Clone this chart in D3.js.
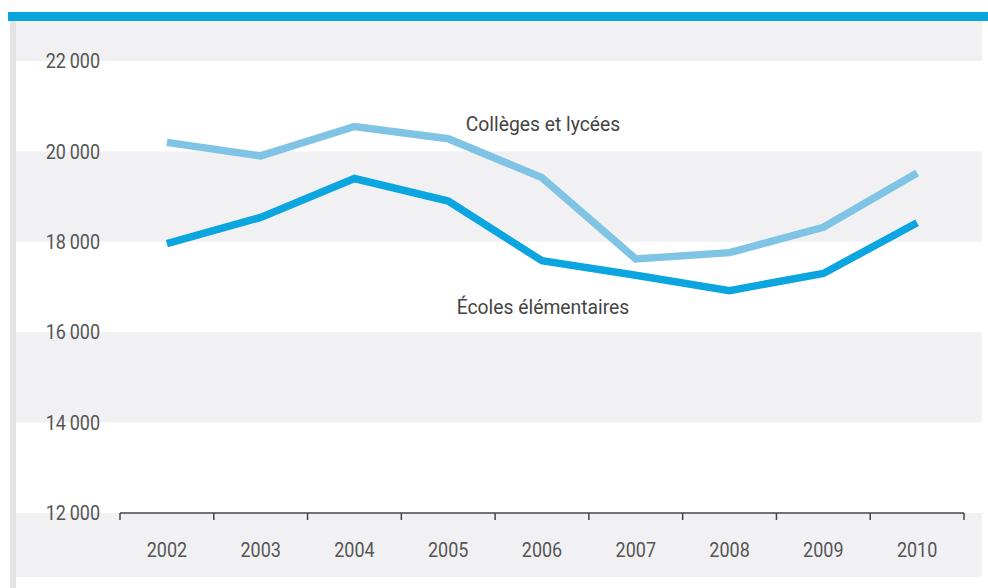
<!DOCTYPE html>
<html>
<head>
<meta charset="utf-8">
<script src="https://cdn.jsdelivr.net/npm/d3@7"></script>
<style>
  html, body { margin: 0; padding: 0; background: #fff; }
  svg { display: block; }
</style>
</head>
<body>
<svg id="chart"></svg>
<script>
// data
const years = ["2002", "2003", "2004", "2005", "2006", "2007", "2008", "2009", "2010"];
const colleges = [20200, 19900, 20550, 20280, 19420, 17620, 17760, 18320, 19520];
const ecoles = [17960, 18540, 19400, 18900, 17580, 17260, 16920, 17300, 18420];
const yTicks = [12000, 14000, 16000, 18000, 20000, 22000];

const width = 988, height = 588;
const squeeze = 0.9; // the reference uses a condensed face

const svg = d3.select("#chart")
    .attr("width", width)
    .attr("height", height)
    .style("font-family", "Roboto, 'Liberation Sans', sans-serif");

const x = d3.scaleBand()
    .domain(years)
    .range([120, 964]);

const y = d3.scaleLinear()
    .domain([12000, 22000])
    .range([513, 61]);

// narrow text helper
function narrowText(sel, px, py, k) {
    return sel.attr("transform", (d, i) => `translate(${px(d, i)},${py(d, i)}) scale(${k || squeeze},1)`);
}

// stripes behind the plot
const panelTop = 21, panelBottom = 577, panelLeft = 16, panelRight = 982;
const edges = [panelTop].concat(yTicks.slice().reverse().map(y)).concat([panelBottom]);
svg.selectAll("rect.band")
    .data(d3.pairs(edges))
    .join("rect")
    .attr("class", "band")
    .attr("x", panelLeft)
    .attr("width", panelRight - panelLeft)
    .attr("y", d => d[0])
    .attr("height", d => d[1] - d[0])
    .attr("fill", (d, i) => i % 2 === 0 ? "#f1f1f3" : "#ffffff");

// left edge strip and top bar
svg.append("rect")
    .attr("x", 10).attr("y", panelTop)
    .attr("width", 6).attr("height", height - panelTop)
    .attr("fill", "#e3e3e6");

svg.append("rect")
    .attr("x", 8).attr("y", 12)
    .attr("width", width - 8).attr("height", 9)
    .attr("fill", "#09a6de");

// y labels
svg.selectAll("text.ylab")
    .data(yTicks)
    .join("text")
    .attr("class", "ylab")
    .call(narrowText, () => 100, d => y(d))
    .attr("dy", "0.36em")
    .attr("text-anchor", "end")
    .style("font-size", "20px")
    .style("fill", "#555")
    .text(d => d3.format(",")(d).replace(",", "\u2009"));

// x axis with ticks at band edges
const axisG = svg.append("g");
axisG.append("line")
    .attr("x1", x.range()[0]).attr("x2", x.range()[1])
    .attr("y1", 513).attr("y2", 513)
    .attr("stroke", "#444").attr("stroke-width", 1.5);

const edgesX = years.map(d => x(d)).concat([x.range()[1]]);
axisG.selectAll("line.tick")
    .data(edgesX)
    .join("line")
    .attr("class", "tick")
    .attr("x1", d => d).attr("x2", d => d)
    .attr("y1", 513).attr("y2", 520)
    .attr("stroke", "#444").attr("stroke-width", 1.5);

axisG.selectAll("text")
    .data(years)
    .join("text")
    .call(narrowText, d => x(d) + x.bandwidth() / 2, () => 557)
    .attr("text-anchor", "middle")
    .style("font-size", "20px")
    .style("fill", "#555")
    .text(d => d);

// lines
const line = d3.line()
    .x((d, i) => x(years[i]) + x.bandwidth() / 2)
    .y(d => y(d));

svg.append("path")
    .datum(colleges)
    .attr("d", line)
    .attr("fill", "none")
    .attr("stroke", "#7fc4e4")
    .attr("stroke-width", 7.5);

svg.append("path")
    .datum(ecoles)
    .attr("d", line)
    .attr("fill", "none")
    .attr("stroke", "#0ba5df")
    .attr("stroke-width", 7.5);

// series labels
svg.append("text")
    .call(narrowText, () => 543, () => 131, 0.92)
    .attr("text-anchor", "middle")
    .style("font-size", "21px")
    .style("fill", "#444")
    .text("Collèges et lycées");

svg.append("text")
    .call(narrowText, () => 543, () => 314, 0.92)
    .attr("text-anchor", "middle")
    .style("font-size", "21px")
    .style("fill", "#444")
    .text("Écoles élémentaires");
</script>
</body>
</html>
